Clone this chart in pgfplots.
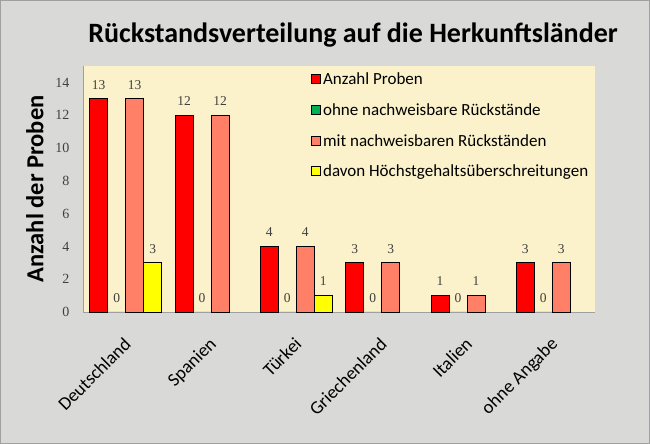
\documentclass[border=0pt]{standalone}
\usepackage{pgfplots}
\pgfplotsset{compat=1.18}
\usepackage{fontspec}
\setmainfont{Carlito}
\newfontfamily\numfont{Liberation Serif}
\definecolor{bggray}{HTML}{D9DAD8}
\definecolor{cream}{HTML}{FBF2CB}
\definecolor{cred}{HTML}{FF0000}
\definecolor{cgreen}{HTML}{00B050}
\definecolor{csalmon}{HTML}{FF8066}
\definecolor{cyellow}{HTML}{FFFF00}
\definecolor{numgray}{HTML}{404040}
\definecolor{axgray}{HTML}{A0A0A0}
\begin{document}
\begin{tikzpicture}
\useasboundingbox (0,0) rectangle (650pt,444pt);
\fill[bggray] (0,0) rectangle (650pt,444pt);
\draw[axgray, line width=1pt] (0.5pt,0.5pt) rectangle (649.5pt,443.5pt);
\node[font=\bfseries\fontsize{28}{33}\selectfont, text=black, anchor=base] at (353pt,401pt) {Rückstandsverteilung auf die Herkunftsländer};
\begin{axis}[
  at={(83pt,132pt)}, anchor=south west,
  scale only axis, width=512pt, height=246pt,
  ybar=0pt, bar width=18pt,
  xmin=-0.5, xmax=5.5, ymin=0, ymax=15,
  xtick={0,1,2,3,4,5},
  xticklabels={Deutschland,Spanien,Türkei,Griechenland,Italien,ohne Angabe},
  ytick={0,2,...,14},
  major tick length=0pt,
  /pgf/number format/assume math mode=true,
  axis background/.style={fill=cream},
  axis line style={axgray},
  axis x line*=bottom, axis y line*=left,
  x axis line style={-}, y axis line style={-},
  xticklabel style={rotate=45, anchor=north east, inner sep=0pt, font=\fontsize{18.5}{22}\selectfont, xshift=-19pt, yshift=-15pt},
  yticklabel style={font=\numfont\fontsize{14}{16}\selectfont, text=numgray, xshift=-10pt},
  ylabel={Anzahl der Proben},
  ylabel style={at={(axis description cs:-0.094,0.5)}, anchor=center, font=\bfseries\fontsize{24.5}{29}\selectfont},
  nodes near coords,
  every node near coord/.append style={font=\numfont\fontsize{13.5}{15}\selectfont, text=numgray, yshift=6pt},
  legend style={at={(0.44,0.99)}, anchor=north west, draw=none, fill=none, font=\fontsize{17}{20}\selectfont, row sep=13.5pt, text=black},
  legend cell align=left,
  clip=false,
]
\addplot[draw=black, fill=cred, line width=0.6pt,
  legend image code/.code={\draw[fill=cred, draw=black, line width=0.6pt] (0pt,-4pt) rectangle (9pt,5pt);}]
  coordinates {(0,13) (1,12) (2,4) (3,3) (4,1) (5,3)};
\addlegendentry{Anzahl Proben}
\addplot[draw=none, fill=cgreen,
  legend image code/.code={\draw[fill=cgreen, draw=black, line width=0.6pt] (0pt,-4pt) rectangle (9pt,5pt);}]
  coordinates {(0,0) (1,0) (2,0) (3,0) (4,0) (5,0)};
\addlegendentry{ohne nachweisbare Rückstände}
\addplot[draw=black, fill=csalmon, line width=0.6pt,
  legend image code/.code={\draw[fill=csalmon, draw=black, line width=0.6pt] (0pt,-4pt) rectangle (9pt,5pt);}]
  coordinates {(0,13) (1,12) (2,4) (3,3) (4,1) (5,3)};
\addlegendentry{mit nachweisbaren Rückständen}
\addplot[draw=black, fill=cyellow, line width=0.6pt,
  legend image code/.code={\draw[fill=cyellow, draw=black, line width=0.6pt] (0pt,-4pt) rectangle (9pt,5pt);}]
  coordinates {(0,3) (2,1)};
\addlegendentry{davon Höchstgehaltsüberschreitungen}
\end{axis}
\end{tikzpicture}
\end{document}
